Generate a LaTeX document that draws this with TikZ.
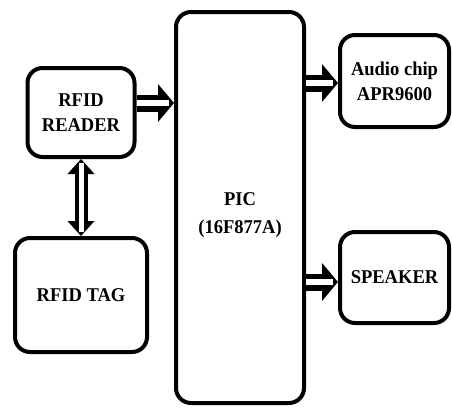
\documentclass[tikz,border=0pt]{standalone}
\usepackage{fontspec}
\setmainfont{Liberation Serif}[FakeStretch=0.95]
\usetikzlibrary{arrows.meta}
\tikzset{
  blk/.style={draw, line width=4pt, rounded corners=15pt, align=center,
    font=\bfseries\fontsize{19.5}{25}\selectfont, inner sep=0pt},
  fatline/.style={line width=17pt, -{Triangle[length=16pt,width=38pt,line width=0pt]}},
  fatcore/.style={white, line width=6pt, shorten >=5pt},
  vline/.style={line width=13pt,
    {Triangle[length=15pt,width=27pt,line width=0pt]}-{Triangle[length=15pt,width=27pt,line width=0pt]}},
  vcore/.style={white, line width=5pt, shorten >=4pt, shorten <=4pt},
}
\begin{document}
\begin{tikzpicture}[x=1pt,y=-1pt]
\path[use as bounding box] (0,0) rectangle (452,407);
\node[blk, minimum width=107pt, minimum height=89pt] (reader) at (81,112.5) {RFID\\READER};
\node[blk, minimum width=132pt, minimum height=114pt] (tag) at (81,295) {RFID TAG};
\node[blk, minimum width=128pt, minimum height=391pt, font=\bfseries\fontsize{19.5}{28}\selectfont] (pic) at (240,207.5)
  {\raisebox{-6pt}[\height][\depth]{\begin{tabular}{@{}c@{}}PIC\\(16F877A)\end{tabular}}};
\node[blk, minimum width=109pt, minimum height=92pt] (audio) at (394.5,81) {Audio chip\\APR9600};
\node[blk, minimum width=109pt, minimum height=91pt] (speaker) at (394.5,277.5) {SPEAKER};

\draw[fatline] (reader.east |- 0,103) -- (pic.west |- 0,103);
\draw[fatcore] (reader.east |- 0,103) -- (pic.west |- 0,103);
\draw[fatline] (pic.east |- 0,83) -- (audio.west |- 0,83);
\draw[fatcore] (pic.east |- 0,83) -- (audio.west |- 0,83);
\draw[fatline] (pic.east |- 0,282) -- (speaker.west |- 0,282);
\draw[fatcore] (pic.east |- 0,282) -- (speaker.west |- 0,282);
\draw[vline] (reader.south) -- (tag.north);
\draw[vcore] (reader.south) -- (tag.north);
\end{tikzpicture}
\end{document}
